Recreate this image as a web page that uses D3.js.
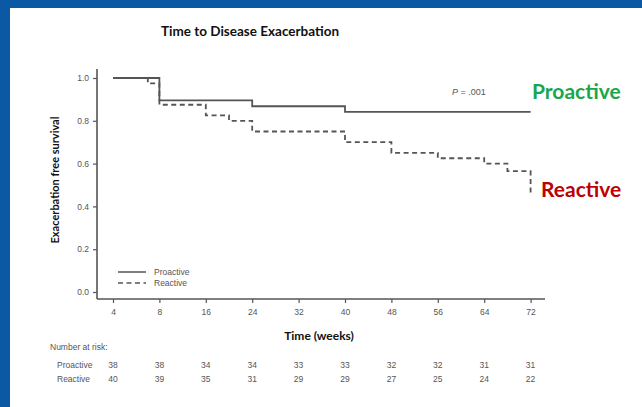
<!DOCTYPE html>
<html lang="en">
<head>
<meta charset="UTF-8">
<title>Time to Disease Exacerbation</title>
<script src="https://d3js.org/d3.v7.min.js"></script>
<style>
    body { margin: 0; background: #fff; }
    svg { display: block; }
    .tick text { font-family: "Liberation Sans", Arial, sans-serif; font-size: 8.5px; fill: #555; }
    .small { font-family: "Liberation Sans", Arial, sans-serif; font-size: 8.5px; fill: #555; }
    .bold { font-family: Lato, "Open Sans", sans-serif; font-weight: bold; fill: #111; }
</style>
</head>
<body>
<div id="chart"></div>
<script>
    // weeks shown on the x axis (equally spaced, like the original figure)
    let weekTicks = [4, 8, 16, 24, 32, 40, 48, 56, 64, 72];
    let yTicks = [0, 0.2, 0.4, 0.6, 0.8, 1.0];

    // Kaplan-Meier steps: week of change and survival after it
    let proactiveWeeks = [4, 8, 24, 40, 72];
    let proactiveSurv  = [1.0, 0.895, 0.868, 0.842, 0.842];
    let reactiveWeeks  = [4, 7, 8, 16, 20, 24, 40, 48, 56, 64, 68, 72];
    let reactiveSurv   = [1.0, 0.975, 0.875, 0.825, 0.80, 0.75, 0.70, 0.65, 0.625, 0.60, 0.565, 0.465];

    // number at risk
    let proactiveRisk = [38, 38, 34, 34, 33, 33, 32, 32, 31, 31];
    let reactiveRisk  = [40, 39, 35, 31, 29, 29, 27, 25, 24, 22];

    let W = 642, H = 407;
    let svg = d3.select("#chart").append("svg")
        .attr("width", W)
        .attr("height", H);

    // blue frame on the top and left
    svg.append("rect").attr("x", 0).attr("y", 0).attr("width", W).attr("height", 8).attr("fill", "#0b59a4");
    svg.append("rect").attr("x", 0).attr("y", 0).attr("width", 10).attr("height", H).attr("fill", "#0b59a4");

    let x0 = 113, step = 46.4;
    let x = d3.scaleLinear()
        .domain(weekTicks)
        .range(weekTicks.map((d, i) => x0 + i * step));

    let y = d3.scaleLinear()
        .domain([0, 1])
        .range([292, 78]);

    let axisColor = "#555";
    let axisLeftX = 97, axisBottomY = 299;

    // y axis
    let gy = svg.append("g")
        .attr("transform", "translate(" + axisLeftX + ",0)")
        .call(d3.axisLeft(y).tickValues(yTicks).tickFormat(d3.format(".1f")).tickSize(4).tickPadding(4));
    gy.select(".domain").remove();
    gy.selectAll(".tick line").attr("stroke", axisColor).attr("stroke-width", 1.2);
    svg.append("line")
        .attr("x1", axisLeftX).attr("x2", axisLeftX)
        .attr("y1", 69).attr("y2", axisBottomY)
        .attr("stroke", axisColor).attr("stroke-width", 1.6);

    // x axis
    let gx = svg.append("g")
        .attr("transform", "translate(0," + axisBottomY + ")")
        .call(d3.axisBottom(x).tickValues(weekTicks).tickFormat(d3.format("d")).tickSize(4).tickPadding(6));
    gx.select(".domain").remove();
    gx.selectAll(".tick line").attr("stroke", axisColor).attr("stroke-width", 1.2);
    svg.append("line")
        .attr("x1", axisLeftX).attr("x2", 545)
        .attr("y1", axisBottomY).attr("y2", axisBottomY)
        .attr("stroke", axisColor).attr("stroke-width", 1.6);

    // survival curves
    let line = d3.line()
        .x(d => x(d[0]))
        .y(d => y(d[1]))
        .curve(d3.curveStepAfter);

    svg.append("path")
        .datum(reactiveWeeks.map((w, i) => [w, reactiveSurv[i]]))
        .attr("d", line)
        .attr("fill", "none")
        .attr("stroke", "#555")
        .attr("stroke-width", 1.8)
        .attr("stroke-dasharray", "5,3.5");

    svg.append("path")
        .datum(proactiveWeeks.map((w, i) => [w, proactiveSurv[i]]))
        .attr("d", line)
        .attr("fill", "none")
        .attr("stroke", "#555")
        .attr("stroke-width", 1.8);

    // legend inside the plot
    svg.append("line").attr("x1", 118).attr("x2", 146).attr("y1", 272).attr("y2", 272)
        .attr("stroke", "#555").attr("stroke-width", 1.5);
    svg.append("line").attr("x1", 118).attr("x2", 146).attr("y1", 283).attr("y2", 283)
        .attr("stroke", "#555").attr("stroke-width", 1.5).attr("stroke-dasharray", "5,3.5");
    svg.append("text").attr("class", "small").attr("x", 154).attr("y", 275).text("Proactive");
    svg.append("text").attr("class", "small").attr("x", 154).attr("y", 286).text("Reactive");

    // p value
    let pText = svg.append("text").attr("class", "small").attr("x", 452).attr("y", 95).style("font-size", "9px");
    pText.append("tspan").style("font-style", "italic").text("P");
    pText.append("tspan").text(" = .001");

    // group labels
    svg.append("text").attr("x", 532).attr("y", 99)
        .style("font-family", "Lato, sans-serif").style("font-weight", "bold").style("font-size", "21px")
        .attr("fill", "#1aa64b").text("Proactive");
    svg.append("text").attr("x", 541).attr("y", 197)
        .style("font-family", "Lato, sans-serif").style("font-weight", "bold").style("font-size", "21px")
        .attr("fill", "#c00000").text("Reactive");

    // titles
    svg.append("text").attr("class", "bold").attr("x", 250).attr("y", 36)
        .attr("text-anchor", "middle").style("font-size", "13.5px")
        .text("Time to Disease Exacerbation");
    svg.append("text").attr("class", "bold").attr("x", 319).attr("y", 340)
        .attr("text-anchor", "middle").style("font-size", "12px")
        .text("Time (weeks)");
    svg.append("text").attr("class", "bold")
        .attr("transform", "translate(59,180) rotate(-90)")
        .attr("text-anchor", "middle").style("font-size", "11px")
        .text("Exacerbation free survival");

    // number at risk table
    svg.append("text").attr("class", "small").attr("x", 50).attr("y", 350).text("Number at risk:");
    svg.append("text").attr("class", "small").attr("x", 57).attr("y", 368).text("Proactive");
    svg.append("text").attr("class", "small").attr("x", 57).attr("y", 382).text("Reactive");

    svg.selectAll(".riskP")
        .data(proactiveRisk)
        .enter().append("text")
        .attr("class", "small")
        .attr("x", (d, i) => x(weekTicks[i]))
        .attr("y", 368)
        .attr("text-anchor", "middle")
        .text(d => d);

    svg.selectAll(".riskR")
        .data(reactiveRisk)
        .enter().append("text")
        .attr("class", "small")
        .attr("x", (d, i) => x(weekTicks[i]))
        .attr("y", 382)
        .attr("text-anchor", "middle")
        .text(d => d);
</script>
</body>
</html>
